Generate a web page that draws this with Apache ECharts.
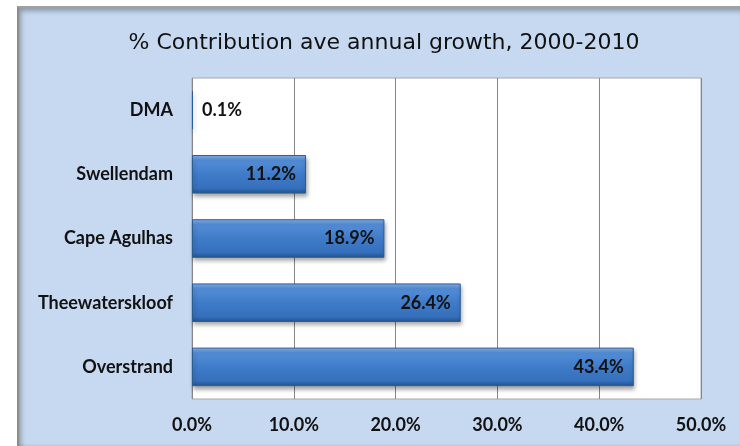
<!DOCTYPE html>
<html>
<head>
<meta charset="utf-8">
<script src="https://cdn.jsdelivr.net/npm/echarts@6/dist/echarts.min.js"></script>
<style>
  html, body { margin: 0; padding: 0; background: #fff; }
  #frame {
    position: absolute; left: 17px; top: 6px; width: 721px; height: 440px;
    background: #c6d9f0;
    border-left: 2px solid #8c8c8c; border-top: 2px solid #a0a0a0;
    box-shadow: inset 4px 5px 5px -2px rgba(0,0,0,0.3), inset 0 -4px 4px -3px rgba(0,0,0,0.25);
  }
  #chart { position: absolute; left: 0; top: 0; width: 740px; height: 446px; }
</style>
</head>
<body>
<div id="frame"></div>
<div id="chart"></div>
<script>
// data
var categories = ['DMA', 'Swellendam', 'Cape Agulhas', 'Theewaterskloof', 'Overstrand']
var values = [0.1, 11.2, 18.9, 26.4, 43.4]
var xTicks = [0, 10, 20, 30, 40, 50]

var chart = echarts.init(document.getElementById('chart'))

var barColor = new echarts.graphic.LinearGradient(0, 0, 0, 1, [
  { offset: 0, color: '#86b6ee' },
  { offset: 0.14, color: '#548ed8' },
  { offset: 0.5, color: '#3f7bc8' },
  { offset: 0.86, color: '#3570bd' },
  { offset: 1, color: '#24528c' }
])

var barData = values.map(function (v) {
  var small = v < 5
  return {
    value: v,
    label: {
      position: small ? 'right' : 'insideRight',
      distance: small ? 9 : 10
    }
  }
})

chart.setOption({
  animation: false,
  backgroundColor: 'transparent',
  title: {
    text: '% Contribution ave annual growth, 2000-2010',
    left: 379,
    top: 27,
    textAlign: 'center',
    textStyle: {
      fontFamily: 'DejaVu Sans',
      fontWeight: 'normal',
      fontSize: 22,
      color: '#111'
    }
  },
  grid: {
    left: 192,
    right: 39,
    top: 78,
    bottom: 47,
    show: true,
    backgroundColor: '#fff',
    borderColor: '#a8a8a8',
    borderWidth: 1
  },
  xAxis: {
    type: 'value',
    min: xTicks[0],
    max: xTicks[xTicks.length - 1],
    interval: 10,
    axisLine: { show: false },
    axisTick: { show: false },
    splitLine: { lineStyle: { color: '#868686', width: 1 } },
    axisLabel: {
      margin: 17,
      fontFamily: 'Lato',
      fontWeight: 'bold',
      fontSize: 18,
      color: '#111',
      formatter: function (v) { return v.toFixed(1) + '%' }
    }
  },
  yAxis: {
    type: 'category',
    data: categories,
    inverse: true,
    axisLine: { show: false },
    axisTick: { show: false },
    axisLabel: {
      margin: 19,
      fontFamily: 'Lato',
      fontWeight: 'bold',
      fontSize: 18,
      color: '#111'
    }
  },
  series: [{
    type: 'bar',
    data: barData,
    barWidth: '60%',
    itemStyle: {
      color: barColor,
      borderColor: '#2d5b93',
      borderWidth: 1,
      shadowColor: 'rgba(0,0,0,0.35)',
      shadowBlur: 4,
      shadowOffsetX: 1,
      shadowOffsetY: 3
    },
    label: {
      show: true,
      fontFamily: 'Lato',
      fontWeight: 'bold',
      fontSize: 18,
      color: '#111',
      formatter: function (p) { return p.value.toFixed(1) + '%' }
    }
  }]
})
</script>
</body>
</html>
